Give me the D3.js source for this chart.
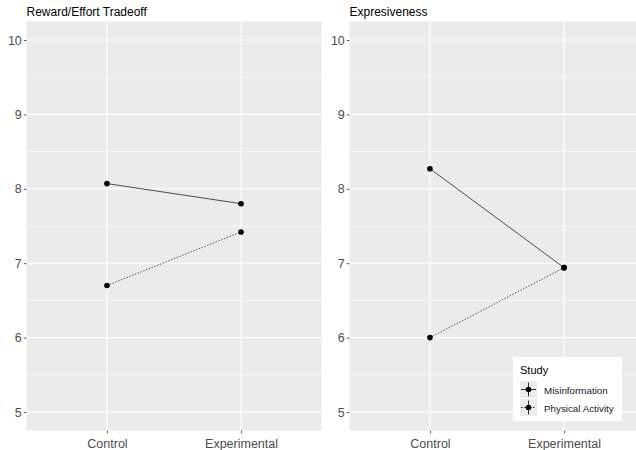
<!DOCTYPE html>
<html><head><meta charset="utf-8">
<script src="https://cdn.jsdelivr.net/npm/d3@7"></script>
<style>body{margin:0;background:#fff}svg{display:block;font-family:"Liberation Sans",Arial,sans-serif}</style>
</head><body><svg id="c" width="636" height="450"></svg>
<script>
const conditions = ["Control", "Experimental"];
const studies = ["Misinformation", "Physical Activity"];
const panelTitles = ["Reward/Effort Tradeoff", "Expresiveness"];
const rewardMisinfo = [8.07, 7.80];
const rewardPhysical = [6.70, 7.42];
const expressMisinfo = [8.27, 6.94];
const expressPhysical = [6.00, 6.94];
const yTicks = [5, 6, 7, 8, 9, 10];
const yMinor = [5.5, 6.5, 7.5, 8.5, 9.5];

const panels = [
  {title: panelTitles[0], x0: 26.5, series: [rewardMisinfo, rewardPhysical]},
  {title: panelTitles[1], x0: 349.5, series: [expressMisinfo, expressPhysical]}
];
const pw = 295, pTop = 21.4, pBottom = 430.6;
const svg = d3.select("#c");
const y = d3.scaleLinear().domain([4.75, 10.25]).range([pBottom, pTop]);
const dash = ["none", "1.5,1.5"];

panels.forEach(p => {
  const x = d3.scalePoint().domain(conditions).range([p.x0, p.x0 + pw]).padding(0.6);
  const g = svg.append("g");
  g.append("rect").attr("x", p.x0).attr("y", pTop).attr("width", pw).attr("height", pBottom - pTop).attr("fill", "#EBEBEB");
  yMinor.forEach(v => g.append("line").attr("x1", p.x0).attr("x2", p.x0 + pw).attr("y1", y(v)).attr("y2", y(v)).attr("stroke", "#fff").attr("stroke-width", 0.6));
  yTicks.forEach(v => g.append("line").attr("x1", p.x0).attr("x2", p.x0 + pw).attr("y1", y(v)).attr("y2", y(v)).attr("stroke", "#fff").attr("stroke-width", 1.1));
  conditions.forEach(c => g.append("line").attr("x1", x(c)).attr("x2", x(c)).attr("y1", pTop).attr("y2", pBottom).attr("stroke", "#fff").attr("stroke-width", 1.1));
  const ya = g.append("g").attr("transform", `translate(${p.x0},0)`).call(d3.axisLeft(y).tickValues(yTicks).tickFormat(d3.format("d")).tickSize(2.7).tickPadding(2));
  const xa = g.append("g").attr("transform", `translate(0,${pBottom})`).call(d3.axisBottom(x).tickSize(2.7).tickPadding(3));
  [ya, xa].forEach(a => {
    a.select(".domain").remove();
    a.selectAll(".tick line").attr("stroke", "#333").attr("stroke-width", 0.8);
    a.selectAll(".tick text").attr("fill", "#4D4D4D").attr("font-size", "12.5px").attr("font-family", "Liberation Sans, Arial, sans-serif");
  });
  xa.selectAll(".tick text").attr("dy", "0.9em");
  g.append("text").attr("x", p.x0).attr("y", 16).attr("font-size", "12px").attr("fill", "#000").text(p.title);
  p.series.forEach((vals, i) => {
    const line = d3.line().x((d, j) => x(conditions[j])).y(d => y(d));
    g.append("path").datum(vals).attr("d", line).attr("fill", "none").attr("stroke", i === 0 ? "#222" : "#333").attr("stroke-width", 0.8).attr("stroke-dasharray", dash[i]);
    g.selectAll(null).data(vals).enter().append("circle").attr("cx", (d, j) => x(conditions[j])).attr("cy", d => y(d)).attr("r", 2.8).attr("fill", "#000");
  });
});

const lg = svg.append("g");
lg.append("rect").attr("x", 513).attr("y", 357).attr("width", 109).attr("height", 64).attr("fill", "#fff");
lg.append("text").attr("x", 520).attr("y", 374).attr("font-size", "11px").attr("fill", "#000").text("Study");
studies.forEach((s, i) => {
  const ky = 381 + i * 18;
  lg.append("rect").attr("x", 520).attr("y", ky).attr("width", 17).attr("height", 17).attr("fill", "#EBEBEB");
  lg.append("line").attr("x1", 521).attr("x2", 536).attr("y1", ky + 8.5).attr("y2", ky + 8.5).attr("stroke", "#000").attr("stroke-width", 0.8).attr("stroke-dasharray", dash[i]);
  lg.append("line").attr("x1", 528.5).attr("x2", 528.5).attr("y1", ky + 1.5).attr("y2", ky + 15.5).attr("stroke", "#000").attr("stroke-width", 0.8);
  lg.append("circle").attr("cx", 528.5).attr("cy", ky + 8.5).attr("r", 2.8).attr("fill", "#000");
  lg.append("text").attr("x", 544).attr("y", ky + 12.5).attr("font-size", "9.8px").attr("fill", "#1A1A1A").text(s);
});
</script></body></html>
